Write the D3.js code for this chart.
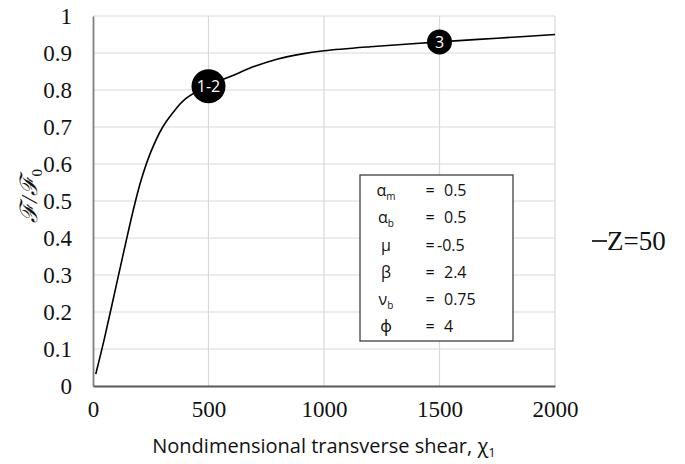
<!DOCTYPE html>
<html>
<head>
<meta charset="utf-8">
<script src="https://cdn.jsdelivr.net/npm/d3@7"></script>
<style>
	body { margin: 0; background: #fff; }
	svg { display: block; }
</style>
</head>
<body>
<svg id="chart" width="685" height="464"></svg>
<script>
'use strict';

// curve
const CHI = [12, 50, 100, 150, 180, 210, 250, 300, 350, 400, 500, 600, 700, 800, 900, 1000, 1200, 1500, 1750, 2000];
const RATIO = [0.032, 0.13, 0.27, 0.41, 0.49, 0.56, 0.632, 0.698, 0.742, 0.776, 0.812, 0.838, 0.864, 0.884, 0.897, 0.906, 0.917, 0.930, 0.940, 0.950];
const SERIES_NAME = "Z=50";

const X_TICKS = [0, 500, 1000, 1500, 2000];
const Y_TICKS = [0, 0.1, 0.2, 0.3, 0.4, 0.5, 0.6, 0.7, 0.8, 0.9, 1];

// numbered points on the curve
const MARK_LABELS = ["1-2", "3"];
const MARK_CHI = [500, 1500];
const MARK_RATIO = [0.81, 0.93];

// parameter box
const PARAM_SYMBOLS = ["α", "α", "μ", "β", "ν", "ϕ"];
const PARAM_SUBS = ["m", "b", "", "", "b", ""];
const PARAM_VALUES = ["0.5", "0.5", "-0.5", "2.4", "0.75", "4"];

const SERIF = "'Liberation Serif', 'Times New Roman', serif";
const SANS = "'Open Sans', 'Noto Sans', sans-serif";

const plot = { left: 93, top: 16, right: 555, bottom: 386 };

const svg = d3.select("#chart");

const x = d3.scaleLinear().domain([0, 2000]).range([plot.left, plot.right]);
const y = d3.scaleLinear().domain([0, 1]).range([plot.bottom, plot.top]);

// gridlines
const grid = svg.append("g").attr("stroke", "#d9d9d9").attr("stroke-width", 1.2);
grid.selectAll("line.h")
	.data(Y_TICKS.slice(1))
	.join("line")
		.attr("class", "h")
		.attr("x1", plot.left).attr("x2", plot.right)
		.attr("y1", d => y(d)).attr("y2", d => y(d));
grid.selectAll("line.v")
	.data(X_TICKS.slice(1))
	.join("line")
		.attr("class", "v")
		.attr("x1", d => x(d)).attr("x2", d => x(d))
		.attr("y1", plot.top).attr("y2", plot.bottom);

// axes
const yAxis = svg.append("g")
	.attr("transform", `translate(${plot.left},0)`)
	.call(d3.axisLeft(y).tickValues(Y_TICKS).tickSize(0).tickPadding(21).tickFormat(d3.format("")));
yAxis.select(".domain").attr("stroke", "#7f7f7f").attr("stroke-width", 1.8);
yAxis.selectAll("text")
	.attr("font-family", SERIF).attr("font-size", 23).attr("fill", "#111").attr("dy", "0.33em");

const xAxis = svg.append("g")
	.attr("transform", `translate(0,${plot.bottom})`)
	.call(d3.axisBottom(x).tickValues(X_TICKS).tickSize(0).tickPadding(21).tickFormat(d3.format("")));
xAxis.select(".domain").attr("stroke", "#595959").attr("stroke-width", 1.8);
xAxis.selectAll("text")
	.attr("font-family", SERIF).attr("font-size", 23).attr("fill", "#111").attr("dy", "0.45em");

// axis titles
const xTitle = svg.append("text")
	.attr("x", (plot.left + plot.right) / 2)
	.attr("y", 453)
	.attr("text-anchor", "middle")
	.attr("font-family", SANS).attr("font-size", 20).attr("fill", "#111");
xTitle.append("tspan").text("Nondimensional transverse shear, χ");
xTitle.append("tspan").attr("font-size", 13).attr("dy", 4).text("1");

const yTitle = svg.append("text")
	.attr("transform", "translate(37,196) rotate(-90)")
	.attr("text-anchor", "middle")
	.attr("font-family", SERIF).attr("font-style", "italic").attr("font-size", 24).attr("fill", "#111");
yTitle.append("tspan").text("ℱ/ℱ");
yTitle.append("tspan").attr("font-size", 15).attr("dy", 5).attr("font-style", "normal").text("0");

// curve
const data = CHI.map((c, i) => ({ chi: c, r: RATIO[i] }));
const line = d3.line()
	.x(d => x(d.chi))
	.y(d => y(d.r))
	.curve(d3.curveCatmullRom.alpha(0.5));

svg.append("path")
	.datum(data)
	.attr("fill", "none")
	.attr("stroke", "#000")
	.attr("stroke-width", 1.6)
	.attr("d", line);

// markers
const marks = svg.append("g").selectAll("g")
	.data(MARK_LABELS.map((l, i) => ({ label: l, chi: MARK_CHI[i], r: MARK_RATIO[i] })))
	.join("g")
		.attr("transform", d => `translate(${x(d.chi)},${y(d.r)})`);
marks.append("circle")
	.attr("r", d => d.label.length > 1 ? 17 : 12.5)
	.attr("fill", "#000");
marks.append("text")
	.attr("text-anchor", "middle")
	.attr("dy", "0.36em")
	.attr("font-family", SANS)
	.attr("font-size", 16)
	.attr("fill", "#fff")
	.text(d => d.label);

// parameter box
const box = { x0: 360, y0: 175, x1: 513, y1: 341 };
svg.append("rect")
	.attr("x", box.x0).attr("y", box.y0)
	.attr("width", box.x1 - box.x0).attr("height", box.y1 - box.y0)
	.attr("fill", "#fff")
	.attr("stroke", "#404040")
	.attr("stroke-width", 1.3);

const rowY = d3.scaleBand()
	.domain(d3.range(PARAM_SYMBOLS.length))
	.range([box.y0 + 2, box.y1 - 1]);

const rows = svg.append("g").selectAll("g")
	.data(PARAM_SYMBOLS.map((s, i) => ({ sym: s, sub: PARAM_SUBS[i], val: PARAM_VALUES[i] })))
	.join("g")
		.attr("transform", (d, i) => `translate(0,${rowY(i) + rowY.bandwidth() / 2})`)
		.attr("font-family", SANS).attr("font-size", 16).attr("fill", "#111");

rows.append("text")
	.attr("x", 386).attr("dy", "0.35em")
	.attr("text-anchor", "middle")
	.each(function(d) {
		const t = d3.select(this);
		t.append("tspan").text(d.sym);
		if (d.sub) t.append("tspan").attr("font-size", 10).attr("dy", 4).text(d.sub);
	});
rows.append("text")
	.attr("x", 430).attr("dy", "0.35em")
	.attr("text-anchor", "middle")
	.text("=");
rows.append("text")
	.attr("x", d => d.val.startsWith("-") ? 437 : 444)
	.attr("dy", "0.35em")
	.text(d => d.val);

// legend
const legend = svg.append("g").attr("transform", "translate(592,241)");
legend.append("line")
	.attr("x1", 0).attr("x2", 15)
	.attr("stroke", "#000").attr("stroke-width", 1.6);
legend.append("text")
	.attr("x", 15).attr("dy", "0.35em")
	.attr("font-family", SERIF).attr("font-size", 27).attr("fill", "#111")
	.text(SERIES_NAME);
</script>
</body>
</html>
